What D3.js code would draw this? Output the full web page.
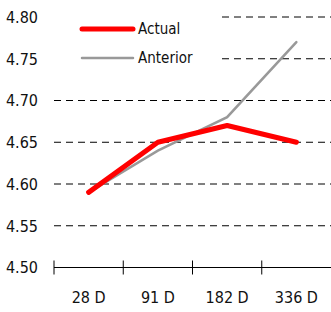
<!DOCTYPE html>
<html lang="es">
<head>
<meta charset="UTF-8">
<title>Actual vs Anterior</title>
<script src="https://d3js.org/d3.v7.min.js"></script>
<style>
  body { margin: 0; background: #fff; }
  text { font-family: "DejaVu Sans Condensed", "DejaVu Sans", sans-serif; font-stretch: condensed; fill: #111; }
</style>
</head>
<body>
<svg width="331" height="312"></svg>
<script>
var categories = ["28 D", "91 D", "182 D", "336 D"];
var actual = [4.59, 4.65, 4.67, 4.65];
var anterior = [4.59, 4.64, 4.68, 4.77];
var yTicks = [4.50, 4.55, 4.60, 4.65, 4.70, 4.75, 4.80];

var svg = d3.select("svg"),
    plotLeft = 54, plotRight = 331, plotTop = 17, plotBottom = 267.5;

var x = d3.scaleBand().domain(categories).range([plotLeft, plotRight]);
var y = d3.scaleLinear().domain([4.5, 4.8]).range([plotBottom, plotTop]);

// grid
svg.append("g").selectAll("line")
  .data(yTicks.filter(function(d) { return d > 4.5; }))
  .enter().append("line")
  .attr("x1", plotLeft).attr("x2", plotRight)
  .attr("y1", function(d) { return y(d); })
  .attr("y2", function(d) { return y(d); })
  .attr("stroke", "#000")
  .attr("stroke-dasharray", "7,5");

// y labels
svg.append("g").selectAll("text")
  .data(yTicks)
  .enter().append("text")
  .attr("x", 38)
  .attr("y", function(d) { return y(d); })
  .attr("dy", "0.36em")
  .attr("text-anchor", "end")
  .attr("font-size", "16px")
  .text(function(d) { return d.toFixed(2); });

// x axis
svg.append("line")
  .attr("x1", plotLeft).attr("x2", plotRight)
  .attr("y1", plotBottom).attr("y2", plotBottom)
  .attr("stroke", "#000");

svg.append("g").selectAll("line")
  .data(categories)
  .enter().append("line")
  .attr("x1", function(d) { return x(d); })
  .attr("x2", function(d) { return x(d); })
  .attr("y1", plotBottom - 7).attr("y2", plotBottom + 7)
  .attr("stroke", "#000");

svg.append("g").selectAll("text")
  .data(categories)
  .enter().append("text")
  .attr("x", function(d) { return x(d) + x.bandwidth() / 2; })
  .attr("y", 297)
  .attr("dy", "0.36em")
  .attr("text-anchor", "middle")
  .attr("font-size", "16px")
  .text(function(d) { return d; });

// legend box hides grid
svg.append("rect")
  .attr("x", plotLeft).attr("y", 4)
  .attr("width", 166).attr("height", 70)
  .attr("fill", "#fff");

var line = d3.line()
  .x(function(d, i) { return x(categories[i]) + x.bandwidth() / 2; })
  .y(function(d) { return y(d); });

svg.append("path")
  .datum(anterior)
  .attr("d", line)
  .attr("fill", "none")
  .attr("stroke", "#999")
  .attr("stroke-width", 2.5)
  .attr("stroke-linecap", "round");

svg.append("path")
  .datum(actual)
  .attr("d", line)
  .attr("fill", "none")
  .attr("stroke", "#ff0000")
  .attr("stroke-width", 5)
  .attr("stroke-linecap", "round")
  .attr("stroke-linejoin", "round");

// legend
var legend = [
  { name: "Actual", color: "#ff0000", w: 5, y: 29 },
  { name: "Anterior", color: "#999", w: 2.5, y: 58 }
];
var lg = svg.append("g").selectAll("g").data(legend).enter().append("g");
lg.append("line")
  .attr("x1", 82).attr("x2", 133)
  .attr("y1", function(d) { return d.y; })
  .attr("y2", function(d) { return d.y; })
  .attr("stroke", function(d) { return d.color; })
  .attr("stroke-width", function(d) { return d.w; })
  .attr("stroke-linecap", "round");
lg.append("text")
  .attr("x", 138)
  .attr("y", function(d) { return d.y; })
  .attr("dy", "0.36em")
  .attr("font-size", "15px")
  .text(function(d) { return d.name; });
</script>
</body>
</html>
